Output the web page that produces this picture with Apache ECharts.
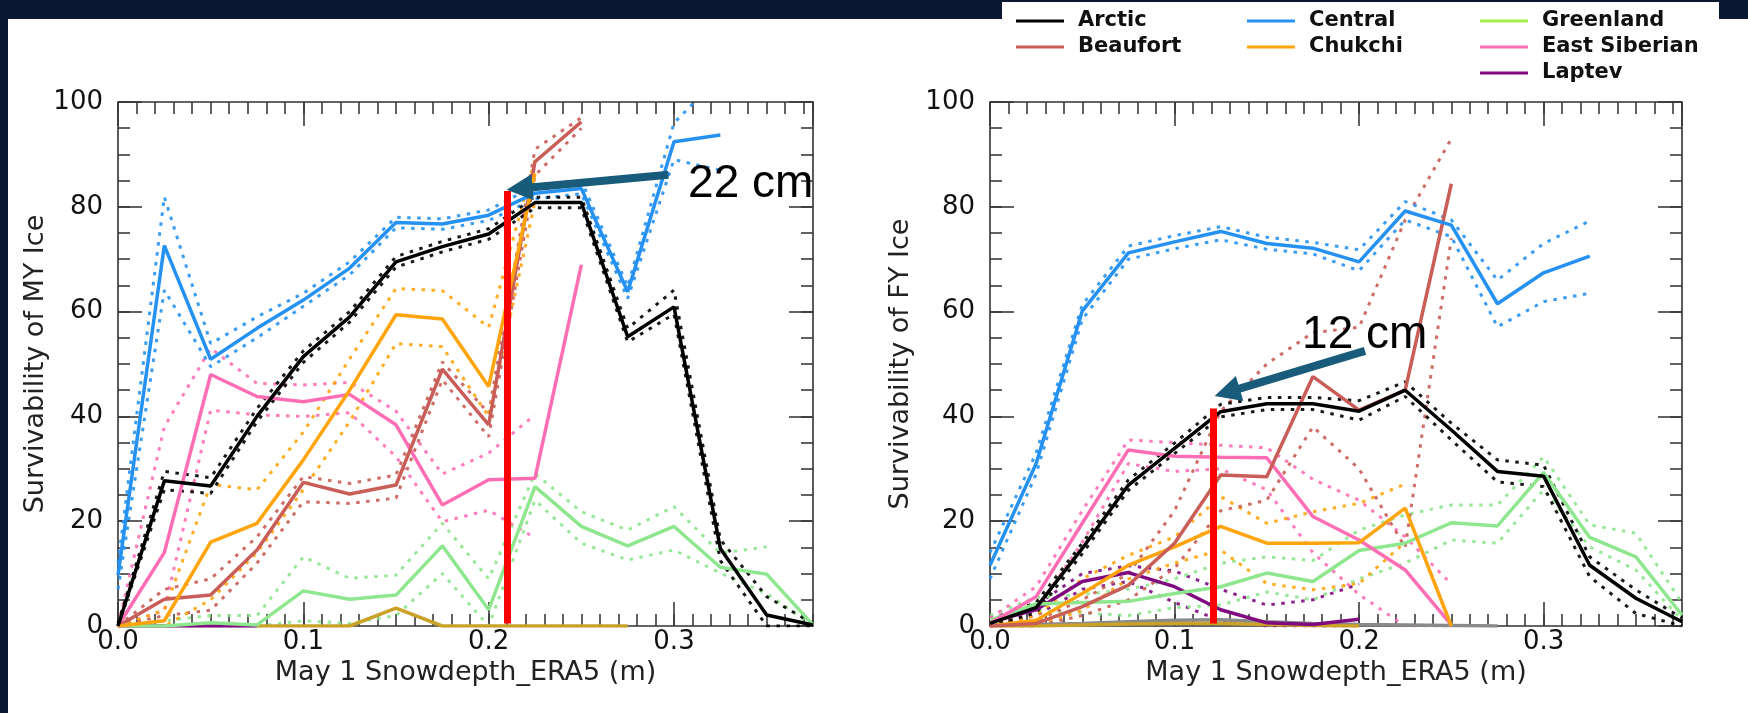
<!DOCTYPE html>
<html>
<head>
<meta charset="utf-8">
<script src="https://cdn.jsdelivr.net/npm/echarts@6/dist/echarts.min.js"></script>
<style>
html, body { margin: 0; padding: 0; }
body { width: 1748px; height: 713px; background: #0b1733; position: relative; overflow: hidden; }
#panel { position: absolute; left: 8px; top: 19px; width: 1740px; height: 694px; background: #fff; }
#main { position: absolute; left: 0; top: 0; width: 1748px; height: 713px; }
</style>
</head>
<body>
<div id="panel"></div>
<div id="main"></div>
<script>
// snow depth bins (m)
var xs = [0, 0.025, 0.05, 0.075, 0.1, 0.125, 0.15, 0.175, 0.2, 0.225, 0.25, 0.275, 0.3, 0.325, 0.35, 0.375];
var xTickLabels = ['0.0', '0.1', '0.2', '0.3'];
var yTickLabels = ['0', '20', '40', '60', '80', '100'];

/* ---------- MY ice (left) ---------- */
var my_arctic    = [0, 27.7, 26.7, 40, 51.4, 59, 69.5, 72.4, 74.8, 80.8, 80.8, 55.2, 60.9, 14.8, 2.1, 0.2];
var my_arctic_hi = [0.5, 29.5, 28.3, 41.5, 52.5, 60, 70.5, 73.4, 75.8, 81.8, 81.8, 56.8, 64.1, 16.5, 5.6, 0.5];
var my_arctic_lo = [0, 26, 25.3, 39, 50.3, 58, 68.5, 71.4, 73.8, 79.8, 79.8, 54.2, 59.5, 12.5, 0, 0];

var my_central    = [9.7, 72.6, 50.9, 56.8, 62.2, 68.3, 77.0, 76.7, 78.4, 82.6, 83.5, 63.8, 92.4, 93.7];
var my_central_hi = [12, 81.9, 53.9, 59, 63.5, 69.5, 78, 77.7, 79.4, 84, 85, 64.8, 96, 105];
var my_central_lo = [7, 64.1, 49.5, 55, 61, 67, 76, 75.7, 77.4, 81.5, 82.5, 62.5, 89, 87];

var my_beaufort    = [0, 5.1, 5.9, 14.5, 27.4, 25.2, 26.9, 49, 38.4, 88.6, 96.2];
var my_beaufort_hi = [0, 7, 9, 17, 28.5, 27.2, 28.8, 50.4, 40.6, 91, 97];
var my_beaufort_lo = [0, 2, 3, 12, 23.7, 23.4, 24.4, 47, 36.1, 86, 95];

var my_chukchi    = [0, 1.0, 16, 19.6, 31.7, 45, 59.4, 58.6, 45.7, 86.4];
var my_chukchi_hi = [0, 3, 27, 26, 37, 51, 64.4, 64, 57, 89];
var my_chukchi_lo = [0, 0, 5, 14, 26, 39, 53.9, 53.3, 40, 81];

var my_greenland    = [0, 0, 0.6, 0.2, 6.7, 5.1, 5.9, 15.3, 3.1, 26.6, 19, 15.3, 19, 11.2, 9.9, 0.2];
var my_greenland_hi = [0, 1, 2, 2, 13.2, 9.1, 9.7, 19.6, 9, 29.1, 21.8, 18.3, 22.8, 13.9, 15.1, null];
var my_greenland_lo = [0, 0, 0, 0, 1, 0.5, 2, 10, 0, 24, 15.8, 12.6, 14.5, 10.1, 6.2, 0];

var my_esib    = [0, 14, 48, 43.8, 42.8, 44.2, 38.4, 23.1, 27.9, 28.2, 68.9];
var my_esib_hi = [0, 38, 53, 46.3, 46, 46.5, 41, 29, 33, 40.3];
var my_esib_lo = [0, 3, 41.2, 40.3, 40, 40.7, 32.3, 19.9, 22.1, 16.8];

var my_laptev = [0, 0, 0, 0];
var my_other  = [null, null, null, 0, 0, 0, 3.4, 0, 0, 0, 0, 0];

/* ---------- FY ice (right) ---------- */
var fy_arctic    = [0.5, 3.5, 14.8, 26.9, 33.9, 40.9, 42.4, 42.4, 41, 45, 37.4, 29.5, 28.6, 11.6, 5.3, 0.8];
var fy_arctic_hi = [1, 4.5, 15.8, 27.9, 34.9, 42.3, 43.6, 43.6, 43, 46.6, 38.7, 31.7, 30.7, 13.2, 6.9, 1.5];
var fy_arctic_lo = [0, 2.5, 13.8, 25.9, 32.9, 39.9, 41.3, 41.3, 39.3, 43.8, 35.5, 27.5, 26.6, 9.4, 2.4, 0];

var fy_central    = [11.6, 31, 60.1, 71.2, 73.3, 75.3, 73, 72.1, 69.5, 79.2, 76.5, 61.5, 67.4, 70.6];
var fy_central_hi = [14, 33, 61.3, 72.5, 74.5, 76.2, 74.2, 73.2, 71.8, 81, 77.5, 66, 73, 77.3];
var fy_central_lo = [9, 29, 58.5, 70, 72, 73.7, 71.9, 71, 67.8, 77.5, 74.3, 57.1, 61.9, 63.5];

var fy_beaufort    = [0, 0.5, 3.7, 7.8, 15.8, 28.8, 28.5, 47.6, 41.2, 45, 84.4];
var fy_beaufort_hi = [0, 1, 5, 10, 22, 41, 50, 56, 57, 77.5, 93];
var fy_beaufort_lo = [0, 0, 2, 5, 11, 22, 24, 38, 30, 15, 74];

var fy_chukchi    = [0, 1.1, 6.2, 11.6, 15.1, 19, 15.8, 15.8, 15.9, 22.5, 0];
var fy_chukchi_hi = [0, 2, 9, 13.5, 17, 24.7, 19.6, 21.8, 23.4, 27.1];
var fy_chukchi_lo = [0, 0, 3, 9, 12, 14.5, 8.1, 6.9, 8.1, 16];

var fy_greenland    = [1.1, 4.2, 4.5, 4.7, 6.2, 7.5, 10.1, 8.5, 14.4, 15.8, 19.7, 19.1, 29.3, 16.9, 13.2, 2.1];
var fy_greenland_hi = [2, 5.5, 6, 7, 9, 12, 13.2, 12.5, 18.3, 21.2, 23.1, 23.1, 32.3, 19.3, 17.7, 4.4];
var fy_greenland_lo = [0.5, 3, 2.5, 2, 3.5, 4, 6.5, 5, 9, 12, 16.4, 15.8, 26, 15.1, 10.7, 1.1];

var fy_esib    = [0.5, 5.6, 19.6, 33.6, 32.4, 32.2, 32.1, 20.9, 16.4, 10.7, 0.2];
var fy_esib_hi = [1.5, 7.5, 22, 35.5, 35, 34.5, 34, 28, 24, 17, 8];
var fy_esib_lo = [0, 3, 16, 31, 29.5, 30, 26, 14, 6, 0, 0];

var fy_laptev    = [0.8, 3.1, 8.5, 10.2, 7.5, 3.1, 0.6, 0.3, 1.3];
var fy_laptev_hi = [1.5, 4, 10, 11.5, 10.5, 7, 4, 5, 8];
var fy_laptev_lo = [0, 2, 7, 8.5, 4.5, 1, 0, 0, 0];

var fy_gray  = [0.2, 0.3, 0.5, 0.8, 1.1, 1.2, 0.8, 0.5, 0.3, 0.2, 0.1, 0];
var fy_other = [0, 0, 0.2, 0.4, 0.5, 0.5, 0.3, 0.1, 0];

// snow depth thresholds marked on each panel (m) and survivability at the marker top
var thresholds = [0.21, 0.121];
var thresholdTop = [83, 41.5];
var thresholdText = ['22 cm', '12 cm'];

var C_ARCTIC = '#000000', C_BEAUFORT = '#c95d57', C_CENTRAL = '#2591f2', C_CHUKCHI = '#ffa40a',
    C_GREEN = '#8ee68e', C_ESIB = '#ff6eb4', C_LAPTEV = '#800a80', C_GRAY = '#8a8a8a', C_OLIVE = '#c9a227';
var FONT = 'DejaVu Sans';

function pairs(vals) {
	var out = [];
	for (var i = 0; i < vals.length; i++) {
		if (vals[i] != null) out.push([xs[i], vals[i]]);
	}
	return out;
}

function line(name, vals, color, dotted, g) {
	return {
		type: 'line', name: name, xAxisIndex: g * 4, yAxisIndex: g * 4,
		data: pairs(vals), showSymbol: false, symbol: 'none', silent: true,
		itemStyle: { color: color },
		lineStyle: dotted ? { color: color, width: 3, type: [3.5, 6.5], opacity: 0.9 } : { color: color, width: 3.5 },
		z: dotted ? 2 : 3
	};
}

function region(list, name, color, main, hi, lo, g) {
	if (hi) list.push(line(name + ' hi', hi, color, true, g));
	if (lo) list.push(line(name + ' lo', lo, color, true, g));
	list.push(line(name, main, color, false, g));
}

var tickStyle = { color: '#3a3a3a', width: 1.6 };

function xAx(g, pos, iv, len, lab, name) {
	return {
		type: 'value', gridIndex: g, position: pos, min: 0, max: 0.375, interval: iv,
		axisLine: { show: false, onZero: false }, splitLine: { show: false },
		axisTick: { show: true, inside: true, length: len, lineStyle: tickStyle },
		axisLabel: lab ? {
			show: true, margin: 3, fontSize: 26, color: '#111', fontFamily: FONT, showMaxLabel: false,
			formatter: function (v) {
				var k = Math.round(v * 10);
				return (Math.abs(v * 10 - k) < 1e-6 && k < xTickLabels.length) ? xTickLabels[k] : '';
			}
		} : { show: false },
		name: name || '', nameLocation: 'middle', nameGap: 31,
		nameTextStyle: { fontSize: 27, color: '#222', fontFamily: FONT }
	};
}

function yAx(g, pos, iv, len, lab, name, gap) {
	return {
		type: 'value', gridIndex: g, position: pos, min: 0, max: 100, interval: iv,
		axisLine: { show: false, onZero: false }, splitLine: { show: false },
		axisTick: { show: true, inside: true, length: len, lineStyle: tickStyle },
		axisLabel: lab ? {
			show: true, margin: 15, fontSize: 26, color: '#111', fontFamily: FONT,
			formatter: function (v) { return yTickLabels[Math.round(v / 20)]; }
		} : { show: false },
		name: name || '', nameLocation: 'middle', nameGap: gap || 0, nameRotate: 90,
		nameTextStyle: { fontSize: 27, color: '#222', fontFamily: FONT }
	};
}

var xAxes = [], yAxes = [];
[0, 1].forEach(function (g) {
	xAxes.push(xAx(g, 'bottom', 0.1, 24, true, 'May 1 Snowdepth_ERA5 (m)'));
	xAxes.push(xAx(g, 'bottom', 0.01, 12, false));
	xAxes.push(xAx(g, 'top', 0.1, 24, false));
	xAxes.push(xAx(g, 'top', 0.01, 12, false));
	yAxes.push(yAx(g, 'left', 20, 24, true, g == 0 ? 'Survivability of MY Ice' : 'Survivability of FY Ice', g == 0 ? 68 : 76));
	yAxes.push(yAx(g, 'left', 5, 12, false));
	yAxes.push(yAx(g, 'right', 20, 24, false));
	yAxes.push(yAx(g, 'right', 5, 12, false));
});

var series = [];
// left panel
series.push(line('other', my_other, C_OLIVE, false, 0));
series.push(line('Laptev', my_laptev, C_LAPTEV, false, 0));
region(series, 'Greenland', C_GREEN, my_greenland, my_greenland_hi, my_greenland_lo, 0);
region(series, 'East Siberian', C_ESIB, my_esib, my_esib_hi, my_esib_lo, 0);
region(series, 'Beaufort', C_BEAUFORT, my_beaufort, my_beaufort_hi, my_beaufort_lo, 0);
region(series, 'Chukchi', C_CHUKCHI, my_chukchi, my_chukchi_hi, my_chukchi_lo, 0);
region(series, 'Central', C_CENTRAL, my_central, my_central_hi, my_central_lo, 0);
region(series, 'Arctic', C_ARCTIC, my_arctic, my_arctic_hi, my_arctic_lo, 0);
// right panel
series.push(line('other', fy_gray, C_GRAY, false, 1));
series.push(line('other2', fy_other, C_OLIVE, false, 1));
region(series, 'Laptev', C_LAPTEV, fy_laptev, fy_laptev_hi, fy_laptev_lo, 1);
region(series, 'Greenland', C_GREEN, fy_greenland, fy_greenland_hi, fy_greenland_lo, 1);
region(series, 'East Siberian', C_ESIB, fy_esib, fy_esib_hi, fy_esib_lo, 1);
region(series, 'Chukchi', C_CHUKCHI, fy_chukchi, fy_chukchi_hi, fy_chukchi_lo, 1);
region(series, 'Beaufort', C_BEAUFORT, fy_beaufort, fy_beaufort_hi, fy_beaufort_lo, 1);
region(series, 'Central', C_CENTRAL, fy_central, fy_central_hi, fy_central_lo, 1);
region(series, 'Arctic', C_ARCTIC, fy_arctic, fy_arctic_hi, fy_arctic_lo, 1);

// threshold markers + arrows (data coords)
var arrows = [
	[[0.297, 86.1], [0.2167, 83.5]],
	[[0.2032, 52.5], [0.1285, 44.6]]
];
[0, 1].forEach(function (g) {
	series.push({
		type: 'line', name: 'annot', xAxisIndex: g * 4, yAxisIndex: g * 4, data: [], silent: true, z: 5,
		markLine: {
			silent: true, animation: false, label: { show: false },
			data: [
				[{ coord: [thresholds[g], 0.5], symbol: 'none', lineStyle: { color: '#ff0000', width: 7, type: 'solid' } },
				 { coord: [thresholds[g], thresholdTop[g]], symbol: 'none' }],
				[{ coord: arrows[g][0], symbol: 'none', lineStyle: { color: '#185b7a', width: 8, type: 'solid' } },
				 { coord: arrows[g][1], symbol: 'triangle', symbolSize: 26 }]
			]
		}
	});
});

function legendCol(left, names, colors) {
	return {
		orient: 'vertical', left: left, top: 10.5, padding: 0, itemGap: 5,
		itemWidth: 48, itemHeight: 3, icon: 'rect', selectedMode: false,
		textStyle: { fontSize: 21, fontWeight: 'bold', color: '#111', fontFamily: FONT, padding: [0, 0, 0, 9] },
		data: names.map(function (n, i) { return { name: n, itemStyle: { color: colors[i] } }; })
	};
}

var option = {
	animation: false,
	backgroundColor: 'transparent',
	grid: [
		{ left: 118, top: 102, width: 695, height: 524, show: true, borderColor: '#333', borderWidth: 1.6, backgroundColor: 'transparent' },
		{ left: 990, top: 102, width: 692, height: 524, show: true, borderColor: '#333', borderWidth: 1.6, backgroundColor: 'transparent' }
	],
	legend: [
		legendCol(1016, ['Arctic', 'Beaufort'], [C_ARCTIC, C_BEAUFORT]),
		legendCol(1247, ['Central', 'Chukchi'], [C_CENTRAL, C_CHUKCHI]),
		legendCol(1480, ['Greenland', 'East Siberian', 'Laptev'], ['#a3f04a', C_ESIB, C_LAPTEV])
	],
	xAxis: xAxes,
	yAxis: yAxes,
	series: series,
	graphic: [
		{ type: 'rect', left: 1002, top: 2, z: -1, shape: { width: 717, height: 88 }, style: { fill: '#fff' } }
	]
};

var chart = echarts.init(document.getElementById('main'), null, { renderer: 'canvas' });
chart.setOption(option);

// cm labels next to the arrow tails
var textPos = [[0.3076, 84.3], [0.1691, 55.5]];
var texts = [];
[0, 1].forEach(function (g) {
	var p = chart.convertToPixel({ gridIndex: g }, textPos[g]);
	texts.push({
		type: 'text', x: p[0], y: p[1], z: 10,
		style: { text: thresholdText[g], fill: '#000', font: '46px "Liberation Sans", Arial, sans-serif', align: 'left', verticalAlign: 'middle' }
	});
});
chart.setOption({ graphic: option.graphic.concat(texts) });
</script>
</body>
</html>
